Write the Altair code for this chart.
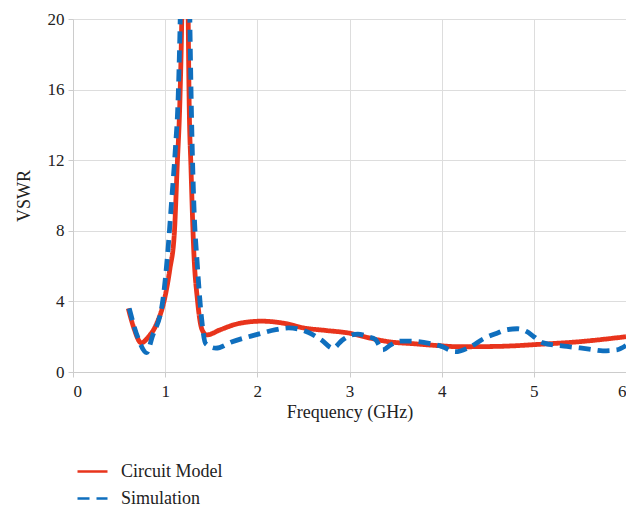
import altair as alt
import pandas as pd

circuit_x = [0.6, 0.66, 0.74, 0.82, 0.9, 1.0, 1.05, 1.1, 1.13, 1.16, 1.18, 1.22, 1.25, 1.26, 1.28, 1.31, 1.35, 1.4, 1.45,
             1.6, 1.8, 2.05, 2.3, 2.5, 2.75, 3.0, 3.2, 3.42, 3.7, 3.95, 4.2, 4.6, 5.1, 5.5, 6.0]
circuit_y = [3.6, 2.5, 1.65, 2.0, 2.65, 4.3, 5.8, 7.9, 11.6, 15.4, 20, 40, 20, 15.4, 11.6, 6.9, 4.1, 2.4, 2.1,
             2.4, 2.75, 2.88, 2.75, 2.5, 2.35, 2.2, 1.95, 1.72, 1.6, 1.5, 1.43, 1.45, 1.58, 1.72, 2.0]

sim_x = [0.61, 0.7, 0.8, 0.86, 0.97, 1.03, 1.07, 1.11, 1.14, 1.16, 1.22, 1.27, 1.29, 1.31, 1.35, 1.39, 1.44, 1.55,
         1.72, 1.98, 2.2, 2.34, 2.55, 2.7, 2.82, 2.92, 3.0, 3.09, 3.2, 3.28, 3.36, 3.45, 3.55, 3.66, 3.88, 4.0, 4.15,
         4.3, 4.46, 4.6, 4.71, 4.82, 4.92, 5.0, 5.1, 5.36, 5.6, 5.75, 5.9, 6.0]
sim_y = [3.6, 2.0, 1.1, 2.0, 3.9, 6.9, 9.7, 12.6, 15.4, 19.2, 40, 19.2, 13.5, 9.7, 6.0, 3.3, 1.6, 1.35,
         1.7, 2.1, 2.4, 2.5, 2.25, 1.8, 1.35, 1.8, 2.05, 2.15, 2.0, 1.85, 1.25, 1.55, 1.75, 1.75, 1.6, 1.45, 1.15,
         1.4, 1.9, 2.2, 2.4, 2.45, 2.3, 2.0, 1.65, 1.45, 1.3, 1.2, 1.25, 1.5]

series_names = ["Circuit Model", "Simulation"]

df = pd.concat([
    pd.DataFrame({"f": circuit_x, "v": circuit_y, "s": series_names[0], "o": range(len(circuit_x))}),
    pd.DataFrame({"f": sim_x, "v": sim_y, "s": series_names[1], "o": range(len(sim_x))}),
])

font = "Liberation Serif"

chart = alt.Chart(df).mark_line(strokeWidth=4.8, clip=True, interpolate="monotone").encode(
    x=alt.X("f:Q", title="Frequency (GHz)",
            scale=alt.Scale(domain=[0, 6], nice=False),
            axis=alt.Axis(values=[0, 1, 2, 3, 4, 5, 6], format="d", labelPadding=6,
                          labelFont=font, labelFontSize=17, titleFont=font, titleFontSize=18)),
    y=alt.Y("v:Q", title="VSWR",
            scale=alt.Scale(domain=[0, 20], nice=False),
            axis=alt.Axis(values=[0, 4, 8, 12, 16, 20], labelPadding=4, titlePadding=14,
                          labelFont=font, labelFontSize=17, titleFont=font, titleFontSize=18)),
    color=alt.Color("s:N", title=None,
                    scale=alt.Scale(domain=series_names, range=["#E8341C", "#0F6FBE"]),
                    legend=alt.Legend(orient="none", legendX=3, legendY=436, direction="vertical",
                                      symbolType="stroke", symbolSize=900, symbolStrokeWidth=2.5,
                                      labelFont=font, labelFontSize=18, labelColor="#222",
                                      rowPadding=1, labelOffset=12)),
    strokeDash=alt.StrokeDash("s:N", title=None,
                              scale=alt.Scale(domain=series_names, range=[[1, 0], [12, 7]]),
                              legend=alt.Legend(orient="none", legendX=3, legendY=436)),
    order="o:Q",
).properties(
    width=553, height=353,
    autosize=alt.AutoSizeParams(type="none"),
    padding={"left": 65, "top": 11, "right": 0, "bottom": 136},
).configure_view(stroke=None).configure_axis(
    labelFont=font, titleFont=font, labelFontSize=17, titleFontSize=18,
    labelColor="#222", titleColor="#222", titleFontWeight="normal",
    gridColor="#dddddd", domainColor="#cccccc", tickColor="#cccccc", tickSize=5,
)

chart.save("out.html", embed_options={"renderer": "svg", "actions": False})
